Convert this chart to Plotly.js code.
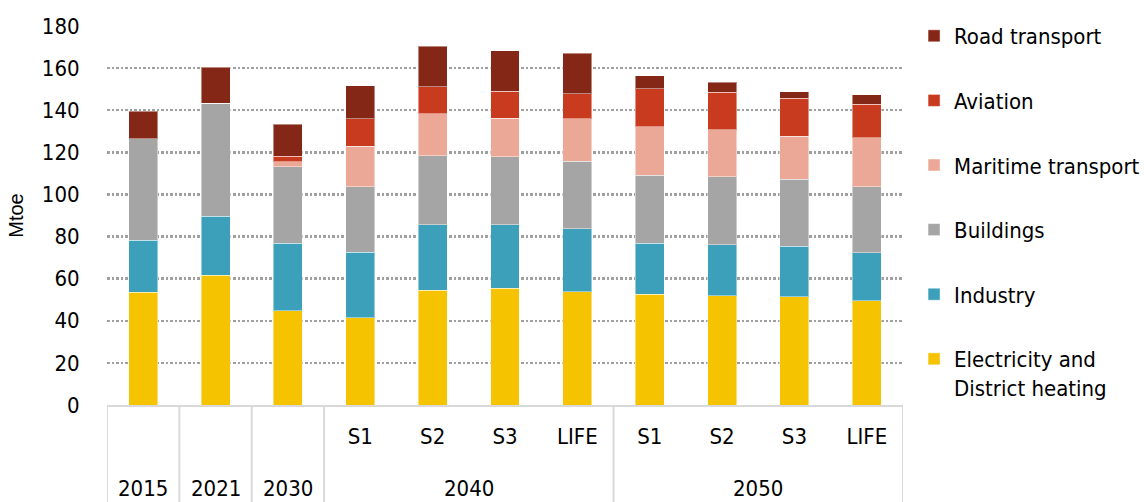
<!DOCTYPE html>
<html>
<head>
<meta charset="utf-8">
<script src="https://cdn.plot.ly/plotly-3.0.1.min.js"></script>
<style>html,body{margin:0;padding:0;background:#fff;}#chart{width:1144px;height:502px;}</style>
</head>
<body>
<div id="chart"></div>
<script>
// Outer (year) and inner (scenario) category labels
const years     = ["2015","2021","2030","2040","2040","2040","2040","2050","2050","2050","2050"];
const scenarios = ["", "", "", "S1", "S2", "S3", "LIFE", "S1", "S2", "S3", "LIFE"];

// Series values (Mtoe)
const electricity = [53.5, 61.6, 44.8, 41.5, 54.6, 55.4, 53.7, 52.6, 51.8, 51.3, 49.5];
const industry    = [24.8, 28.1, 32.1, 31.0, 31.0, 30.2, 29.9, 24.3, 24.2, 24.2, 22.7];
const buildings   = [48.2, 53.6, 36.3, 31.2, 32.8, 32.3, 32.1, 32.2, 32.3, 31.8, 31.5];
const maritime    = [0, 0, 2.3, 19.3, 19.9, 18.4, 20.3, 23.1, 22.4, 20.3, 23.2];
const aviation    = [0, 0, 2.7, 13.0, 12.9, 12.8, 11.8, 18.1, 17.9, 18.0, 16.0];
const road        = [13.0, 17.0, 15.2, 15.6, 19.3, 19.1, 19.2, 6.1, 4.6, 3.2, 4.4];

const seriesNames = ["Electricity and<br>District heating", "Industry", "Buildings", "Maritime transport", "Aviation", "Road transport"];
const seriesData  = [electricity, industry, buildings, maritime, aviation, road];
const colors      = ["#f6c300", "#3ca0bb", "#a5a5a5", "#eca897", "#c93b1f", "#842716"];

const FONT = "DejaVu Sans Condensed, Open Sans, sans-serif";
const FS = 22;

const xIdx = scenarios.map((_, i) => i);

const traces = seriesData.map((vals, i) => ({
  type: "bar",
  name: seriesNames[i],
  x: xIdx,
  y: vals,
  legendgroup: "g" + i,
  legendrank: seriesData.length - i,
  marker: { color: colors[i], line: { color: "rgba(255,255,255,0.45)", width: 1 } },
  hoverinfo: "name+y"
}));

// group boundaries (dividers) and group centres for the year labels
const bounds = [-0.5];
for (let i = 1; i < years.length; i++) if (years[i] !== years[i - 1]) bounds.push(i - 0.5);
bounds.push(years.length - 0.5);

const groups = [];
years.forEach((y, i) => {
  const g = groups.find(o => o.year === y);
  if (g) g.idx.push(i); else groups.push({ year: y, idx: [i] });
});

const shapes = bounds.map(b => ({
  type: "line", xref: "x", yref: "paper",
  x0: b, x1: b, y0: 0, y1: -0.27,
  line: { color: "#d9d9d9", width: 2 }
}));

const annotations = groups.map(g => ({
  xref: "x", yref: "paper",
  x: g.idx.reduce((a, b) => a + b, 0) / g.idx.length,
  y: -0.219, yanchor: "middle", xanchor: "center",
  text: g.year, showarrow: false,
  font: { family: FONT, size: FS, color: "#000" }
}));

const layout = {
  width: 1144,
  height: 502,
  barmode: "stack",
  bargap: 0.6,
  paper_bgcolor: "#fff",
  plot_bgcolor: "#fff",
  font: { family: FONT, size: FS, color: "#000" },
  margin: { l: 107, r: 241, t: 26, b: 97 },
  showlegend: true,
  legend: {
    xref: "container",
    x: 0.799, xanchor: "left",
    y: 1.029, yanchor: "top",
    traceorder: "grouped",
    tracegroupgap: 33,
    valign: "top",
    maxheight: 470,
    font: { family: FONT, size: FS, color: "#000" },
    bgcolor: "rgba(0,0,0,0)"
  },
  shapes: shapes,
  annotations: annotations,
  xaxis: {
    type: "linear",
    range: [-0.5, years.length - 0.5],
    tickmode: "array",
    tickvals: xIdx,
    ticktext: scenarios,
    showline: true,
    linecolor: "#d9d9d9",
    linewidth: 2,
    ticks: "outside",
    ticklen: 11,
    tickcolor: "rgba(0,0,0,0)",
    tickfont: { family: FONT, size: FS, color: "#000" },
    showgrid: false,
    zeroline: false,
    fixedrange: true
  },
  yaxis: {
    range: [0, 180],
    dtick: 20,
    tick0: 0,
    showgrid: true,
    gridcolor: "#a0a0a0",
    gridwidth: 2.5,
    griddash: "2.5px,2px",
    zeroline: false,
    showline: false,
    ticks: "outside",
    ticklen: 22,
    tickcolor: "rgba(0,0,0,0)",
    tickfont: { family: FONT, size: FS, color: "#000" },
    title: { text: "Mtoe", font: { family: "Liberation Sans, Arial, sans-serif", size: 20, color: "#000" }, standoff: 12 }
  }
};

Plotly.newPlot("chart", traces, layout, { displayModeBar: false, staticPlot: true });
</script>
</body>
</html>
